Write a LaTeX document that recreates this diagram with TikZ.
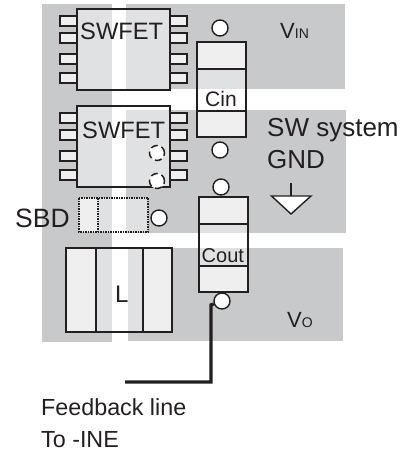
\documentclass[tikz,border=0pt]{standalone}
\usepackage{fontspec}
\setmainfont{Liberation Sans}
\definecolor{copper}{HTML}{C8C9CB}
\definecolor{inkline}{HTML}{231F20}
\begin{document}
\begin{tikzpicture}[x=1pt,y=-1pt,line join=miter]
\useasboundingbox (0,0) rectangle (406,454);

\tikzset{
	part/.style={draw=inkline, line width=1.5pt, fill=white, fill opacity=0.45},
	endcap/.style={draw=inkline, line width=1.5pt, fill=white, fill opacity=0.72},
	pad/.style={circle, draw=inkline, line width=1.4pt, fill=white, inner sep=0pt, minimum size=16pt},
	via/.style={circle, draw=inkline, line width=1.5pt, dash pattern=on 7pt off 4pt, fill=white, inner sep=0pt, minimum size=15pt},
	txt/.style={anchor=base west, inner sep=0pt, text=inkline},
	swfet/.pic={
		\foreach \y in {7,24,45,64} {
			\draw[endcap] (-17,\y) rectangle (0,\y+10);
			\draw[endcap] (93,\y) rectangle (110,\y+10);
		}
		\draw[part] (0,0) rectangle (93,81);
	},
	capacitor/.pic={
		\draw[part] (0,27) rectangle (49,69);
		\draw[endcap] (0,0) rectangle (49,27);
		\draw[endcap] (0,69) rectangle (49,95);
	}
}

% copper areas
\fill[copper] (42,4) rectangle (112,342);
\fill[copper] (126,4) rectangle (345,89);
\fill[copper] (126,110) rectangle (346,233);
\fill[copper] (128,248) rectangle (343,341);

% parts
\pic at (77,9) {swfet};
\pic at (77,106) {swfet};
\pic at (197,42) {capacitor};
\pic at (199,197) {capacitor};

% SBD
\draw[fill=white, fill opacity=0.72, draw=none] (79,198) rectangle (98,232);
\draw[fill=white, fill opacity=0.45, draw=none] (98,198) rectangle (148,232);
\draw[inkline, line width=1.5pt, densely dotted] (79,198) rectangle (148,232);
\draw[inkline, line width=1.5pt, densely dotted] (98,198) -- (98,232);

% L
\draw[part] (96,248) rectangle (143,332);
\draw[endcap] (66,248) rectangle (96,332);
\draw[endcap] (143,248) rectangle (172,332);

% pads
\node[via] (viaupper) at (157,153) {};
\node[via] (vialower) at (157,181) {};
\node[pad] (padin) at (220,28) {};
\node[pad] (padgndin) at (220,150) {};
\node[pad] (padgndout) at (221,187) {};
\node[pad] (padsbd) at (159,218) {};
\node[pad] (padout) at (222,301) {};

% feedback line
\coordinate (fbstart) at (125,382);
\coordinate (fbbend) at (211,382);
\coordinate (fbtop) at (211,305);
\draw[inkline, line width=3.4pt] (fbstart) -- (fbbend) -- (fbtop) -- (padout);

% ground
\coordinate (gndtop) at (291,183);
\coordinate (gndbar) at (291,196);
\draw[inkline, line width=1.4pt] (gndtop) -- (gndbar);
\draw[inkline, line width=1.4pt, fill=white] (271.5,196) -- (311,196) -- (291,214) -- cycle;

% labels
\node[txt, font=\fontsize{23.7}{24}\selectfont] (fetone) at (80,40) {SWFET};
\node[txt, font=\fontsize{23.7}{24}\selectfont] (fettwo) at (82,139) {SWFET};
\node[txt, font=\fontsize{21}{21}\selectfont] (cin) at (205,107) {Cin};
\node[txt, font=\fontsize{20}{20}\selectfont] (cout) at (201.5,262) {Cout};
\node[txt, font=\fontsize{26.5}{26.5}\selectfont] (sbd) at (15,227) {SBD};
\node[txt, font=\fontsize{24}{24}\selectfont] (coil) at (115,302) {L};
\node[txt, font=\fontsize{22}{22}\selectfont] (vin) at (280,39) {V{\fontsize{14}{14}\selectfont IN}};
\node[txt, font=\fontsize{22}{22}\selectfont] (vo) at (287,327) {V{\fontsize{14}{14}\selectfont O}};
\node[txt, font=\fontsize{26}{26}\selectfont] (swsystem) at (267,137) {SW system};
\node[txt, font=\fontsize{26}{26}\selectfont] (gnd) at (267,168) {GND};
\node[txt, font=\fontsize{23.3}{23.3}\selectfont] (fbline) at (41,415) {Feedback line};
\node[txt, font=\fontsize{23.3}{23.3}\selectfont] (toine) at (41,447) {To -INE};

\end{tikzpicture}
\end{document}
